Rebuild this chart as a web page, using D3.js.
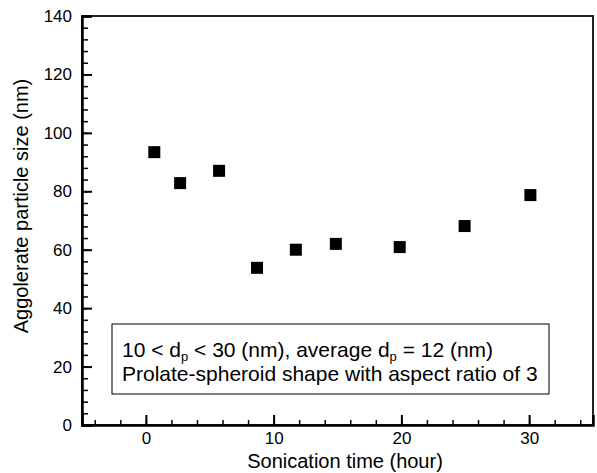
<!DOCTYPE html>
<html>
<head>
<meta charset="utf-8">
<script src="https://cdn.jsdelivr.net/npm/d3@7"></script>
<style>
  body { margin: 0; background: #fff; }
  svg { font-family: "Liberation Sans", Arial, Helvetica, sans-serif; }
</style>
</head>
<body>
<svg id="chart"></svg>
<script>
// sonication time (hour) and agglomerate size (nm)
const sonicationTime = [0.66, 2.68, 5.73, 8.70, 11.74, 14.87, 19.87, 24.95, 30.1];
const particleSize = [93.4, 82.8, 87.0, 53.8, 60.0, 62.0, 60.9, 68.1, 78.7];
const xTicks = [0, 10, 20, 30];
const yTicks = [0, 20, 40, 60, 80, 100, 120, 140];
const noteLine2 = "Prolate-spheroid shape with aspect ratio of 3";

const margin = { top: 16, right: 4, bottom: 48, left: 82 };
const width = 597 - margin.left - margin.right;
const height = 473 - margin.top - margin.bottom;

const svg = d3.select("#chart")
    .attr("width", 597)
    .attr("height", 473);

const g = svg.append("g")
    .attr("transform", `translate(${margin.left}, ${margin.top})`);

const x = d3.scaleLinear().domain([-5, 35]).range([0, width]);
const y = d3.scaleLinear().domain([0, 140]).range([height, 0]);

// minor ticks
g.append("g")
    .attr("transform", `translate(0, ${height})`)
    .call(d3.axisBottom(x).tickValues(d3.range(-4, 35, 2)).tickSize(-5).tickFormat(""))
    .call(a => a.select(".domain").remove())
    .selectAll("line").attr("stroke-width", 1.5);

g.append("g")
    .call(d3.axisLeft(y).tickValues(d3.range(0, 141, 4)).tickSize(-6).tickFormat(""))
    .call(a => a.select(".domain").remove())
    .selectAll("line").attr("stroke-width", 1.5);

// frame
g.append("rect")
    .attr("width", width)
    .attr("height", height)
    .attr("fill", "none")
    .attr("stroke", "#222")
    .attr("stroke-width", 2);

// major axes
const xAxis = g.append("g")
    .attr("transform", `translate(0, ${height})`)
    .call(d3.axisBottom(x).tickValues(xTicks).tickSize(-10).tickPadding(7));

const yAxis = g.append("g")
    .call(d3.axisLeft(y).tickValues(yTicks).tickSize(-10).tickPadding(10));

[xAxis, yAxis].forEach(a => {
    a.select(".domain").attr("stroke-width", 2.5);
    a.selectAll("line").attr("stroke-width", 2);
    a.selectAll("text").attr("font-size", 17).attr("fill", "#000")
        .attr("font-family", "Liberation Sans, Arial, sans-serif");
});

// points
g.selectAll(".pt")
    .data(sonicationTime.map((t, i) => ({ t, s: particleSize[i] })))
    .enter().append("rect")
    .attr("class", "pt")
    .attr("x", d => x(d.t) - 6)
    .attr("y", d => y(d.s) - 6)
    .attr("width", 12)
    .attr("height", 12)
    .attr("fill", "#000");

// annotation box
const note = g.append("g").attr("transform", "translate(30, 308)");
note.append("rect")
    .attr("width", 437)
    .attr("height", 70)
    .attr("fill", "#fff")
    .attr("stroke", "#000")
    .attr("stroke-width", 1);

const l1 = note.append("text")
    .attr("x", 10)
    .attr("y", 33)
    .attr("font-size", 21);
l1.append("tspan").text("10 < d");
l1.append("tspan").attr("font-size", 13).attr("dy", 4).text("p");
l1.append("tspan").attr("dy", -4).text(" < 30 (nm), average d");
l1.append("tspan").attr("font-size", 13).attr("dy", 4).text("p");
l1.append("tspan").attr("dy", -4).text(" = 12 (nm)");

note.append("text")
    .attr("x", 10)
    .attr("y", 57)
    .attr("font-size", 21)
    .text(noteLine2);

// axis titles
svg.append("text")
    .attr("x", 345)
    .attr("y", 468)
    .attr("text-anchor", "middle")
    .attr("font-size", 20)
    .text("Sonication time (hour)");

svg.append("text")
    .attr("transform", "translate(28, 206) rotate(-90)")
    .attr("text-anchor", "middle")
    .attr("font-size", 20)
    .text("Aggolerate particle size (nm)");
</script>
</body>
</html>
